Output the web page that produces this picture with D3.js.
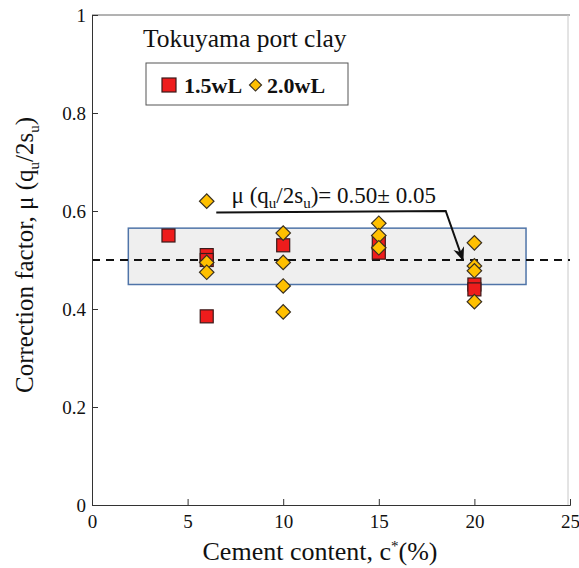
<!DOCTYPE html>
<html>
<head>
<meta charset="utf-8">
<script src="https://cdn.jsdelivr.net/npm/d3@7/dist/d3.min.js"></script>
<style>
  html, body { margin: 0; padding: 0; background: #fff; }
  svg text { font-family: "Liberation Serif", "Times New Roman", serif; fill: #111; }
</style>
</head>
<body>
<svg id="chart" width="579" height="568"></svg>
<script>
// Cement content (%) and correction factor for each mix
const series = ["1.5wL", "2.0wL"];
const cement15 = [4, 6, 6, 6, 10, 15, 15, 20, 20];
const mu15     = [0.55, 0.51, 0.50, 0.385, 0.53, 0.535, 0.515, 0.45, 0.44];
const cement20 = [6, 6, 6, 10, 10, 10, 10, 15, 15, 15, 20, 20, 20, 20];
const mu20     = [0.62, 0.495, 0.475, 0.555, 0.495, 0.447, 0.394, 0.575, 0.55, 0.525, 0.535, 0.488, 0.478, 0.415];
const xTicks = [0, 5, 10, 15, 20, 25];
const yTicks = [0, 0.2, 0.4, 0.6, 0.8, 1];
// Mean value and the band around it
const meanMu = 0.50;
const band = { x0: 1.9, x1: 22.7, y0: 0.45, y1: 0.565 };
// Annotation leader (data units)
const leader = [[6.5, 0.597], [18.5, 0.6], [19.4, 0.5]];

const svg = d3.select("#chart");
const plotL = 92, plotR = 570, plotT = 15, plotB = 505;
const x = d3.scaleLinear().domain([0, 25]).range([plotL, plotR]);
const y = d3.scaleLinear().domain([0, 1]).range([plotB, plotT]);
const serif = '"Liberation Serif", "Times New Roman", serif';

// Frame (top and right edges)
svg.append("line").attr("x1", plotL).attr("x2", plotR).attr("y1", plotT).attr("y2", plotT)
  .attr("stroke", "#666").attr("stroke-width", 1);
svg.append("line").attr("x1", plotR - 2).attr("x2", plotR - 2).attr("y1", plotT).attr("y2", plotB)
  .attr("stroke", "#c8c8c8").attr("stroke-width", 1);

// Band of +/- 0.05 around the mean
svg.append("rect")
  .attr("x", x(band.x0)).attr("y", y(band.y1))
  .attr("width", x(band.x1) - x(band.x0)).attr("height", y(band.y0) - y(band.y1))
  .attr("fill", "#efefef").attr("stroke", "#4f74a8").attr("stroke-width", 1.5);

// Mean line
svg.append("line")
  .attr("x1", x(0)).attr("x2", x(25)).attr("y1", y(meanMu)).attr("y2", y(meanMu))
  .attr("stroke", "#111").attr("stroke-width", 2).attr("stroke-dasharray", "8,6");

// Axes
const xAxis = d3.axisBottom(x).tickValues(xTicks).tickSize(-6).tickPadding(10).tickFormat(d => d);
const yAxis = d3.axisLeft(y).tickValues(yTicks).tickSize(-6).tickPadding(6).tickFormat(d => d);
const gx = svg.append("g").attr("transform", `translate(0,${plotB})`).call(xAxis);
const gy = svg.append("g").attr("transform", `translate(${plotL},0)`).call(yAxis);
[gx, gy].forEach(g => {
  g.attr("font-family", serif);
  g.select(".domain").attr("stroke", "#333");
  g.selectAll(".tick line").attr("stroke", "#333");
  g.selectAll(".tick text").attr("font-family", serif).attr("font-size", 19).attr("fill", "#111");
});

// Leader line with arrow
svg.append("defs").append("marker")
  .attr("id", "arrow").attr("viewBox", "0 0 10 10").attr("refX", 9).attr("refY", 5)
  .attr("markerWidth", 7).attr("markerHeight", 7).attr("orient", "auto")
  .append("path").attr("d", "M0,1 L10,5 L0,9 L3,5 Z").attr("fill", "#111");
svg.append("path")
  .attr("d", d3.line().x(d => x(d[0])).y(d => y(d[1]))(leader))
  .attr("fill", "none").attr("stroke", "#111").attr("stroke-width", 2)
  .attr("marker-end", "url(#arrow)");

// Points: squares for 1.5wL, diamonds for 2.0wL
const sq = 13;
svg.append("g").selectAll("rect").data(cement15.map((c, i) => [c, mu15[i]])).join("rect")
  .attr("x", d => x(d[0]) - sq / 2).attr("y", d => y(d[1]) - sq / 2)
  .attr("width", sq).attr("height", sq)
  .attr("fill", "#ee1c1c").attr("stroke", "#3a1a1a").attr("stroke-width", 1.2);
const diamond = d3.symbol().type(d3.symbolSquare).size(105);
svg.append("g").selectAll("path").data(cement20.map((c, i) => [c, mu20[i]])).join("path")
  .attr("d", diamond)
  .attr("transform", d => `translate(${x(d[0])},${y(d[1])}) rotate(45)`)
  .attr("fill", "#ffc000").attr("stroke", "#3a3020").attr("stroke-width", 1.2);

// Annotation text
const ann = svg.append("text").attr("x", x(7.3)).attr("y", y(0.617)).attr("font-size", 23);
ann.append("tspan").text("μ (q");
ann.append("tspan").text("u").attr("font-size", 15).attr("dy", 5);
ann.append("tspan").text("/2s").attr("dy", -5);
ann.append("tspan").text("u").attr("font-size", 15).attr("dy", 5);
ann.append("tspan").text(")= 0.50± 0.05").attr("dy", -5);

// Title
svg.append("text").attr("x", 143).attr("y", 47).attr("font-size", 25.5).text("Tokuyama port clay");

// Legend
svg.append("rect").attr("x", 146).attr("y", 63).attr("width", 202).attr("height", 42)
  .attr("fill", "#fff").attr("stroke", "#555").attr("stroke-width", 1);
svg.append("rect").attr("x", 162).attr("y", 78).attr("width", 14).attr("height", 14)
  .attr("fill", "#ee1c1c").attr("stroke", "#3a1a1a").attr("stroke-width", 1.2);
svg.append("text").attr("x", 184).attr("y", 93).attr("font-size", 22).attr("font-weight", "bold").text(series[0]);
svg.append("path").attr("d", d3.symbol().type(d3.symbolSquare).size(72))
  .attr("transform", "translate(255.5,85) rotate(45)")
  .attr("fill", "#ffc000").attr("stroke", "#3a3020").attr("stroke-width", 1.2);
svg.append("text").attr("x", 267).attr("y", 93).attr("font-size", 22).attr("font-weight", "bold").text(series[1]);

// Axis titles
const xt = svg.append("text").attr("x", 320).attr("y", 560).attr("text-anchor", "middle").attr("font-size", 26);
xt.append("tspan").text("Cement content, c");
xt.append("tspan").text("*").attr("font-size", 15).attr("dy", -9);
xt.append("tspan").text("(%)").attr("dy", 9);

const yt = svg.append("text").attr("transform", "translate(33,255) rotate(-90)")
  .attr("text-anchor", "middle").attr("font-size", 25);
yt.append("tspan").text("Correction factor,  μ  (q");
yt.append("tspan").text("u").attr("font-size", 15).attr("dy", 6);
yt.append("tspan").text("/2s").attr("dy", -6);
yt.append("tspan").text("u").attr("font-size", 15).attr("dy", 6);
yt.append("tspan").text(")").attr("dy", -6);
</script>
</body>
</html>
